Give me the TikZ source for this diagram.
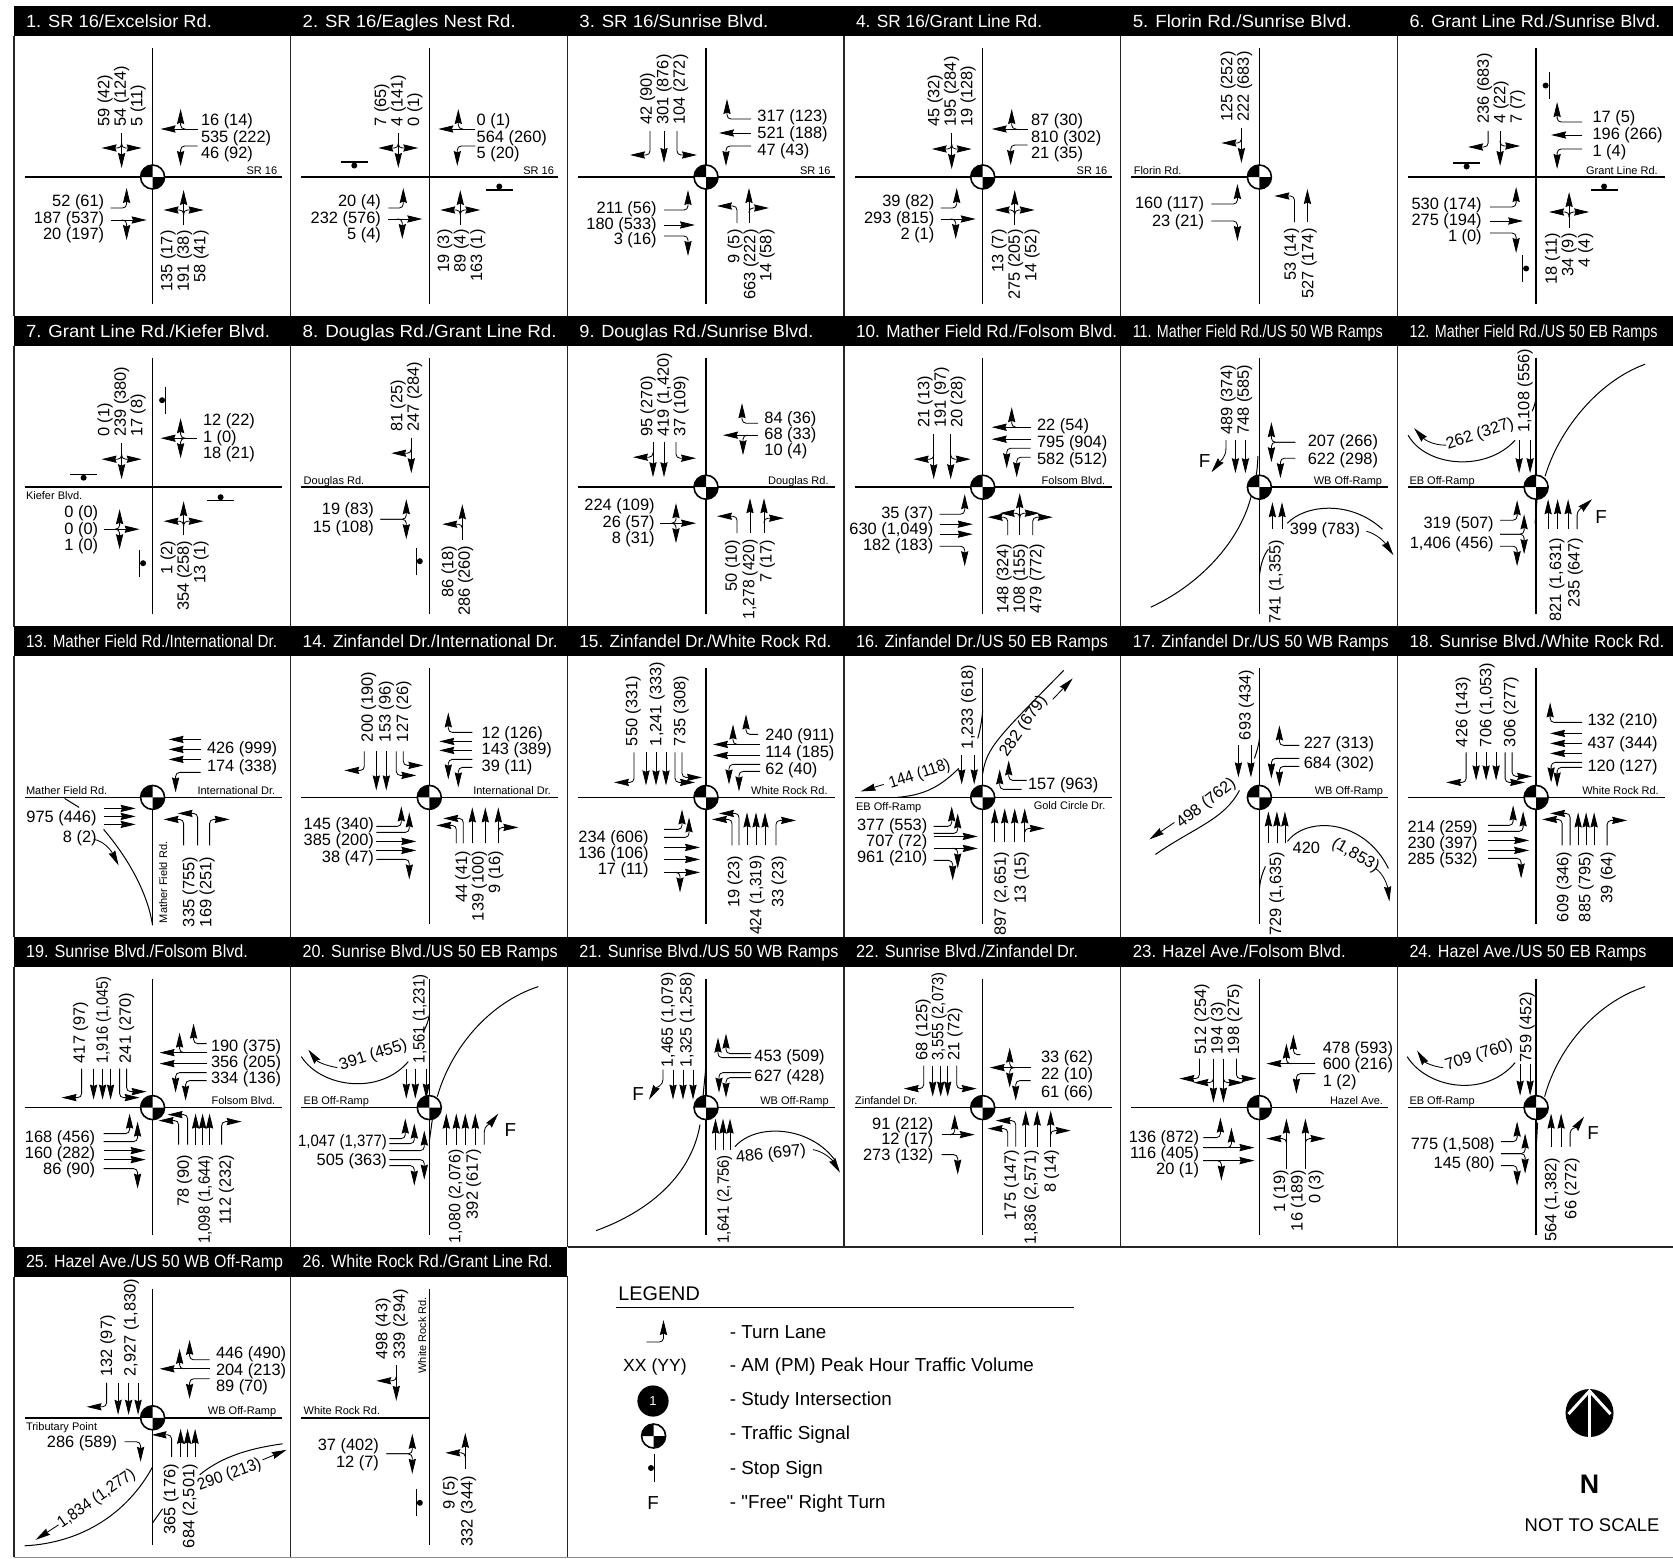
\documentclass[tikz,border=0pt]{standalone}
\usepackage{fontspec}
\usepackage{graphicx}
\usetikzlibrary{arrows.meta}
\setmainfont{Liberation Sans}[Ligatures=TeXOff]

\tikzset{
  every node/.style={font=\fontsize{8.2pt}{8.25pt}\selectfont, inner sep=0pt},
  lh/.style={font=\fontsize{8.2pt}{#1pt}\selectfont},
  lane/.style={line width=0.42pt, -{Stealth[length=7.5pt, width=3.6pt, inset=0.7pt]}},
  ramp/.style={line width=0.5pt},
  axis/.style={line width=0.75pt},
  gridline/.style={line width=0.65pt, draw=black!85},
  title/.style={anchor=base west, text=white, font=\fontsize{8.8pt}{10pt}\selectfont, name=title\cellid},
  volN/.style={rotate=90, anchor=west, align=left, name=v\cellid n},
  volS/.style={rotate=90, anchor=east, align=right, name=v\cellid s},
  volE/.style={anchor=west, align=left, name=v\cellid e},
  volW/.style={anchor=east, align=right, name=v\cellid w},
  road/.style={font=\fontsize{5.5pt}{6pt}\selectfont, name=r\cellid},
  fmark/.style={font=\fontsize{9.4pt}{10pt}\selectfont, name=f\cellid},
  legtext/.style={anchor=west, font=\fontsize{9.4pt}{10pt}\selectfont},
}

% one lane, drawn as if it came from the north: offset, start, end
\newcommand{\laneT}[3]{\draw[lane] (-#1,#2) -- (-#1,#3);}
\newcommand{\laneR}[3]{\draw[lane, rounded corners=2pt] (-#1,#2) -- (-#1,#3) -- (-#1-20,#3);}
\newcommand{\laneL}[3]{\draw[lane, rounded corners=2pt] (-#1,#2) -- (-#1,#3) -- (-#1+20,#3);}
\newcommand{\laneTR}[3]{\laneT{#1}{#2}{#3}\laneR{#1}{#3+25}{#3+20}}
\newcommand{\laneTL}[3]{\laneT{#1}{#2}{#3}\laneL{#1}{#3+25}{#3+20}}
\newcommand{\laneTLR}[3]{\laneT{#1}{#2}{#3}\laneR{#1}{#3+25}{#3+20}\laneL{#1}{#3+25}{#3+20}}
\newcommand{\laneLR}[3]{\laneR{#1}{#2}{#3}\laneL{#1}{#2}{#3}}
% rotation: 0 north leg, 90 west leg, 180 south leg, 270 east leg
\newcommand{\lanes}[2]{%
  \begin{scope}[rotate=#1]
    \foreach \ltype/\loff/\lbeg/\lend in {#2}{\csname lane\ltype\endcsname{\loff}{\lbeg}{\lend}}
  \end{scope}}
\newcommand{\nar}[2]{\scalebox{#1}[1]{#2}}
\newcommand{\signal}{%
  \fill[white] (0,0) circle (12);
  \fill (0,0) -- (-12,0) arc (180:90:12) -- cycle;
  \fill (0,0) -- (12,0) arc (0:-90:12) -- cycle;
  \draw[line width=0.8pt] (0,0) circle (12);}
\newcommand{\stopbar}[3]{%
  \begin{scope}[shift={(#1,#2)}, rotate=#3]
    \draw[line width=0.6pt] (-13.5,0) -- (13.5,0);
    \fill (0,-3.5) circle (3);
  \end{scope}}
% number, title, title width, west end, east end, north end, contents
\newcommand{\cell}[7]{%
  \def\cellid{#1}
  \pgfmathtruncatemacro\cellcol{mod(#1-1,6)}
  \pgfmathtruncatemacro\cellrow{int((#1-1)/6)}
  \pgfmathsetmacro\cellx{152.6+276.7*\cellcol}
  \pgfmathsetmacro\celly{177+310.2*\cellrow}
  \begin{scope}[shift={(\cellx,-\celly)}]
    \fill (-138.6,171) rectangle (138.1,141);
    \node[title] at (-127,150) {\resizebox{#3}{\height}{#2}};
    \draw[gridline] (-138.6,141) -- (-138.6,-139.4);
    \draw[axis] (#4,0) -- (#5,0);
    \draw[axis] (0,#6) -- (0,-127);
    #7
  \end{scope}}

\begin{document}
\begin{tikzpicture}[x=0.5pt, y=0.5pt]
\useasboundingbox (0,0) rectangle (1673,-1558);

\cell{1}{1. SR 16/Excelsior Rd.}{93pt}{-128}{129}{129}{
  \lanes{0}{TLR/31/44/9}
  \lanes{270}{TR/48/45/8, L/31/45/28}
  \lanes{90}{L/31/42/26, TR/43/42/6}
  \lanes{180}{TLR/31/48/13}
  \node[volN] at (-31,50) {59 (42)\\54 (124)\\5 (11)};
  \node[volE] at (48,39) {16 (14)\\535 (222)\\46 (92)};
  \node[volW] at (-48,-42) {52 (61)\\187 (537)\\20 (197)};
  \node[volS] at (32,-53) {135 (17)\\191 (38)\\58 (41)};
  \node[road, anchor=base east] at (125,3) {SR 16};
  \signal
}
\cell{2}{2. SR 16/Eagles Nest Rd.}{106.5pt}{-128}{129}{129}{
  \lanes{0}{TLR/31/44/9}
  \lanes{270}{TR/48/46/9, L/31/46/28}
  \lanes{90}{L/31/41/26, TR/42/41/7}
  \lanes{180}{TLR/31/48/13}
  \node[volN] at (-31,50) {7 (65)\\4 (141)\\0 (1)};
  \node[volE] at (47,39) {0 (1)\\564 (260)\\5 (20)};
  \node[volW] at (-48,-42) {20 (4)\\232 (576)\\5 (4)};
  \node[volS] at (32,-52) {19 (3)\\89 (4)\\163 (1)};
  \node[road, anchor=base east] at (125,3) {SR 16};
  \stopbar{-75}{15}{0}
  \stopbar{70}{-13}{180}
}
\cell{3}{3. SR 16/Sunrise Blvd.}{94.5pt}{-128}{129}{129}{
  \lanes{0}{R/56/46/22, T/42/46/14, L/29/46/22}
  \lanes{270}{R/58/45/21, T/44/45/13, L/31/45/20}
  \lanes{90}{L/33/42/18, T/48/42/11, R/59/42/18}
  \lanes{180}{L/31/46/29, TR/43/46/11}
  \node[volN] at (-42,52) {42 (90)\\301 (876)\\104 (272)};
  \node[volE, lh=8.5] at (51,43) {317 (123)\\521 (188)\\47 (43)};
  \node[volW, lh=7.7] at (-49,-48) {211 (56)\\180 (533)\\3 (16)};
  \node[volS, lh=8] at (45,-52) {9 (5)\\663 (222)\\14 (58)};
  \node[road, anchor=base east] at (125,3) {SR 16};
  \signal
}
\cell{4}{4. SR 16/Grant Line Rd.}{93pt}{-128}{129}{129}{
  \lanes{0}{TLR/31/44/8}
  \lanes{270}{TR/48/45/9, L/32/45/28}
  \lanes{90}{L/31/42/26, TR/42/42/7}
  \lanes{180}{TLR/32/48/13}
  \node[volN] at (-31,50) {45 (32)\\195 (284)\\19 (128)};
  \node[volE] at (48,39) {87 (30)\\810 (302)\\21 (35)};
  \node[volW] at (-48,-42) {39 (82)\\293 (815)\\2 (1)};
  \node[volS] at (33,-52) {13 (7)\\275 (205)\\14 (52)};
  \node[road, anchor=base east] at (125,3) {SR 16};
  \signal
}
\cell{5}{5. Florin Rd./Sunrise Blvd.}{109.5pt}{-128}{0}{129}{
  \lanes{0}{TR/18/49/14}
  \lanes{90}{L/27/48/22, R/44/48/22}
  \lanes{180}{L/35/45/19, T/48/45/12}
  \node[volN] at (-23,55) {125 (252)\\222 (683)};
  \node[volW, lh=9.2] at (-55,-36) {160 (117)\\23 (21)};
  \node[volS, lh=8.8] at (41,-51) {53 (14)\\527 (174)};
  \node[road, anchor=base west] at (-126,3) {Florin Rd.};
  \signal
}
\cell{6}{6. Grant Line Rd./Sunrise Blvd.}{125.5pt}{-128}{129}{129}{
  \lanes{0}{R/48/46/30, TL/36/46/11}
  \lanes{270}{R/55/46/21, T/42/46/15, L/28/46/21}
  \lanes{90}{L/30/46/20, T/44/46/13, R/56/46/20}
  \lanes{180}{TLR/33/51/15}
  \node[volN] at (-35,53) {236 (683)\\4 (22)\\7 (7)};
  \node[volE, lh=8.6] at (56,42) {17 (5)\\196 (266)\\1 (4)};
  \node[volW, lh=8] at (-54,-44) {530 (174)\\275 (194)\\1 (0)};
  \node[volS] at (33,-56) {18 (11)\\34 (9)\\4 (4)};
  \node[road, anchor=base east] at (122,3) {Grant Line Rd.};
  \stopbar{13}{91.5}{270}
  \stopbar{-69.5}{14}{0}
  \stopbar{68}{-13}{180}
  \stopbar{-13.5}{-91.5}{90}
}
\cell{7}{7. Grant Line Rd./Kiefer Blvd.}{122pt}{-128}{129}{129}{
  \lanes{0}{TLR/31/44/8}
  \lanes{270}{TLR/49/44/8}
  \lanes{90}{TLR/42/49/13}
  \lanes{180}{TLR/31/48/14}
  \node[volN] at (-31,50) {0 (1)\\239 (380)\\17 (8)};
  \node[volE] at (50,49) {12 (22)\\1 (0)\\18 (21)};
  \node[volW] at (-54,-43) {0 (0)\\0 (0)\\1 (0)};
  \node[volS] at (32,-53) {1 (2)\\354 (258)\\13 (1)};
  \node[road, anchor=base west] at (-127,-12) {Kiefer Blvd.};
  \stopbar{13}{87}{270}
  \stopbar{-69}{13}{0}
  \stopbar{68}{-13.5}{180}
  \stopbar{-13}{-76}{90}
}
\cell{8}{8. Douglas Rd./Grant Line Rd.}{127pt}{-128}{0}{129}{
  \lanes{0}{TR/18/49/14}
  \lanes{90}{LR/32/49/23}
  \lanes{180}{TL/33/53/17}
  \node[volN] at (-23,55) {81 (25)\\247 (284)};
  \node[volW, lh=9] at (-55,-32) {19 (83)\\15 (108)};
  \node[volS] at (28,-58) {86 (18)\\286 (260)};
  \node[road, anchor=base west] at (-126,3) {Douglas Rd.};
  \stopbar{-13}{-74}{90}
}
\cell{9}{9. Douglas Rd./Sunrise Blvd.}{117pt}{-128}{129}{129}{
  \lanes{0}{TR/53/45/10, T/42/45/10, L/30/45/29}
  \lanes{270}{R/64/52/36, TL/52/52/17}
  \lanes{90}{TLR/36/46/10}
  \lanes{180}{L/31/46/29, T/44/46/11, TR/58/46/11}
  \node[volN] at (-41.5,50) {95 (270)\\419 (1,420)\\37 (109)};
  \node[volE, lh=7.9] at (58,52) {84 (36)\\68 (33)\\10 (4)};
  \node[volW] at (-51,-36) {224 (109)\\26 (57)\\8 (31)};
  \node[volS, lh=8.7] at (44,-52) {50 (10)\\\nar{.95}{1,278 (420)}\\7 (17)};
  \node[road, anchor=base east] at (123,3) {Douglas Rd.};
  \signal
}
\cell{10}{10. Mather Field Rd./Folsom Blvd.}{130.5pt}{-128}{129}{129}{
  \lanes{0}{TR/49/53/8, TL/32/53/8}
  \lanes{270}{TR/60/48/9, T/48/48/9, L/39/48/24, L/30/48/34}
  \lanes{90}{L/27/43/18, T/37/43/10, T/47/43/10, R/59/43/18}
  \lanes{180}{L/25/48/30, TLR/37/48/6, R/50/48/30}
  \node[volN] at (-41,59) {21 (13)\\191 (97)\\20 (28)};
  \node[volE, lh=8.5] at (54,44) {22 (54)\\795 (904)\\582 (512)};
  \node[volW, lh=8] at (-49,-43) {35 (37)\\630 (1,049)\\182 (183)};
  \node[volS] at (38,-56) {148 (324)\\108 (155)\\479 (772)};
  \node[road, anchor=base east] at (123,3) {Folsom Blvd.};
  \signal
}
\cell{11}{11. Mather Field Rd./US 50 WB Ramps}{125pt}{0}{129}{129}{
  \lanes{0}{T/24/47/14, T/14/47/14}
  \lanes{270}{LR/45/36/12, L/29/36/21}
  \lanes{180}{T/13/42/15, T/22.6/42/15}
  \draw[lane] (-33.5,47) -- (-33.5,38) .. controls (-33.5,30) and (-40,25) .. (-48,15);
  \draw[ramp] (-108.6,-120) .. controls (-55,-95) and (-18,-50) .. (-8,-8) .. controls (-4,5) and (-2,15) .. (-1.5,31);
  \draw[ramp] (0,-89) .. controls (1,-78) and (4,-68) .. (9,-62);
  \draw[ramp] (28,-36) .. controls (45,-18) and (90,-12) .. (123,-42);
  \draw[lane] (107,-44) .. controls (118,-47) and (125,-55) .. (134,-68);
  \node[volN] at (-23,52) {489 (374)\\748 (585)};
  \node[volE, lh=9] at (48,36) {207 (266)\\622 (298)};
  \node[volS] at (17,-52) {741 (1,355)};
  \node[volE] at (30,-43) {399 (783)};
  \node[fmark] at (-54.7,26) {F};
  \node[road, anchor=base east] at (123,3) {WB Off-Ramp};
  \signal
}
\cell{12}{12. Mather Field Rd./US 50 EB Ramps}{124pt}{-128}{0}{129}{
  \lanes{0}{T/17/47/14, T/6/47/14}
  \lanes{90}{L/33/36/19, LR/47/36/12, R/59/36/19}
  \lanes{180}{T/12/42/12, T/21.5/42/12, T/32/42/12}
  \draw[lane] (41,-42) -- (41,-28) .. controls (41,-22) and (47,-20) .. (56,-12);
  \draw[ramp] (9,11) .. controls (22,55) and (60,105) .. (109,123);
  \draw[ramp] (-128,52) .. controls (-110,20) and (-50,15) .. (-21,47);
  \draw[lane] (-90,42) .. controls (-104,42) and (-112,48) .. (-122,59);
  \draw[ramp] (0,90) .. controls (-1,84) and (-2,80) .. (-4,76);
  \draw[ramp] (-1,-36) -- (1,-11);
  \node[volN] at (-11,54) {1,108 (556)};
  \node[volW, lh=9.7] at (-42,-47) {319 (507)\\1,406 (456)};
  \node[volS, lh=9.3] at (30,-50) {821 (1,631)\\235 (647)};
  \node[rotate=18] at (-56,53) {262 (327)};
  \node[fmark] at (65,-30) {F};
  \node[road, anchor=base west] at (-127,3) {EB Off-Ramp};
  \signal
}
\cell{13}{13. Mather Field Rd./International Dr.}{125.5pt}{-128}{129}{0}{
  \lanes{270}{T/58/48/16, T/48/48/16, T/38/48/16, L/25/48/23}
  \lanes{90}{T/11/49/17, T/19/49/17, T/27/49/17}
  \lanes{180}{L/31/48/22, L/45/48/16, R/57/48/22}
  \draw[ramp] (-49,-32) .. controls (-25,-60) and (-5,-95) .. (0,-128);
  \draw[lane] (-59,-42) .. controls (-50,-43) and (-42,-52) .. (-34,-68);
  \draw[ramp] (-88,-1) -- (-73.5,-10);
  \node[volE, lh=9] at (54,39) {426 (999)\\174 (338)};
  \node[volW, lh=10] at (-55.6,-31) {975 (446)\\8 (2)};
  \node[volS, lh=8.5] at (46,-59) {335 (755)\\169 (251)};
  \node[road, anchor=base west] at (-127,3) {Mather Field Rd.};
  \node[road, anchor=base east] at (123,3) {International Dr.};
  \node[road, rotate=90, anchor=west] at (10.6,-126) {Mather Field Rd.};
  \signal
}
\cell{14}{14. Zinfandel Dr./International Dr.}{127.5pt}{-128}{129}{129}{
  \lanes{0}{R/65/46/27, T/53/46/7, T/43/46/7, L/33/46/22, L/26/46/32}
  \lanes{270}{R/65/43/19, T/56/43/10, T/47/43/10, L/38/43/19, L/30/43/29}
  \lanes{90}{L/29/53/28, L/35/53/20, T/44/53/13, T/53/53/13, R/62/53/20}
  \lanes{180}{L/27/46/28, L/34/46/21, T/43/46/10, T/56/46/10, TR/69/46/10}
  \node[volN, lh=8.8] at (-43,55) {200 (190)\\153 (96)\\127 (26)};
  \node[volE] at (52,47) {12 (126)\\143 (389)\\39 (11)};
  \node[volW] at (-55,-44) {145 (340)\\385 (200)\\38 (47)};
  \node[volS] at (50,-53) {44 (41)\\139 (100)\\9 (16)};
  \node[road, anchor=base east] at (122,3) {International Dr.};
  \signal
}
\cell{15}{15. Zinfandel Dr./White Rock Rd.}{126pt}{-128}{129}{129}{
  \lanes{0}{R/72/45/15, T/60/45/12, T/50/45/12, T/40/45/12, L/31/45/15, L/24/45/20}
  \lanes{270}{R/63/52/40, TR/53/54/7, T/42/54/7, L/33/54/23, L/26/54/33}
  \lanes{90}{L/32/42/24, L/40/42/17, T/50/42/6, T/62/42/6, TR/75/42/6}
  \lanes{180}{L/26/48/22, L/33/48/16, T/41/48/15, T/50/48/15, T/59/48/15, R/70/48/23}
  \node[volN, lh=12] at (-49,51) {550 (331)\\1,241 (333)\\735 (308)};
  \node[volE, lh=8.6] at (59,44) {240 (911)\\114 (185)\\62 (40)};
  \node[volW, lh=8] at (-57,-57) {234 (606)\\136 (106)\\17 (11)};
  \node[volS, lh=11] at (51,-58) {19 (23)\\\nar{.94}{424 (1,319)}\\33 (23)};
  \node[road, anchor=base east] at (122,3) {White Rock Rd.};
  \signal
}
\cell{16}{16. Zinfandel Dr./US 50 EB Ramps}{126pt}{-128}{129}{129}{
  \lanes{0}{T/21/42/13, T/8.5/42/13}
  \lanes{270}{R/17/44/26, R/8/39/17}
  \lanes{90}{L/29/49/31, L/36/49/25, T/39/49/5, TR/51/49/5, R/63/49/30}
  \lanes{180}{T/12/45/11, T/22/45/11, T/32/45/11, TR/42/45/11}
  \draw[ramp] (0,87) .. controls (-1,75) and (-3,66) .. (-5,59);
  \draw[ramp] (0,24) .. controls (4,50) and (15,60) .. (81,127);
  \draw[lane] (70,98) -- (90,119);
  \draw[ramp] (-24,29) .. controls (-45,8) and (-62,2) .. (-86,0);
  \draw[lane] (-99,13) -- (-122,6);
  \node[volN] at (-14,48) {1,233 (618)};
  \node[volE] at (45,12) {157 (963)};
  \node[volW, lh=8] at (-55,-45) {377 (553)\\707 (72)\\961 (210)};
  \node[volS, lh=10] at (29,-54) {897 (2,651)\\13 (15)};
  \node[rotate=55] at (41,71) {282 (679)};
  \node[rotate=18] at (-63,23) {\nar{.92}{144 (118)}};
  \node[road, anchor=base west] at (-127,-13) {EB Off-Ramp};
  \node[road, anchor=base east] at (123,-12) {Gold Circle Dr.};
  \signal
}
\cell{17}{17. Zinfandel Dr./US 50 WB Ramps}{128pt}{0}{129}{129}{
  \lanes{0}{T/21/52/20, T/8.5/52/20}
  \lanes{270}{R/52/40/20, L/39/40/12, L/31/40/20}
  \lanes{180}{T/9/46/14, T/17.5/46/14, T/25.5/46/14}
  \draw[ramp] (0,59) .. controls (-1,50) and (-3,45) .. (-5,39);
  \draw[ramp] (0,-91) .. controls (1,-82) and (3,-75) .. (6,-69);
  \draw[ramp] (-20,7) .. controls (-35,-22) and (-65,-30) .. (-104,-57);
  \draw[lane] (-85,-25) -- (-110,-42);
  \draw[ramp] (28,-44) .. controls (48,-18) and (105,-22) .. (129,-71);
  \draw[lane] (116,-71) .. controls (124,-76) and (128,-88) .. (130,-104);
  \node[volN] at (-13,57) {693 (434)};
  \node[volE, lh=9.7] at (44,43) {227 (313)\\684 (302)};
  \node[volS] at (17.5,-54) {729 (1,635)};
  \node[rotate=38] at (-53,-6) {498 (762)};
  \node at (47,-50) {420};
  \node[rotate=-30] at (96,-58) {(1,853)};
  \node[road, anchor=base east] at (124,3) {WB Off-Ramp};
  \signal
}
\cell{18}{18. Sunrise Blvd./White Rock Rd.}{127.5pt}{-128}{129}{129}{
  \lanes{0}{R/70/45/15, T/60/45/17, T/50/45/17, T/40/45/17, L/31/45/15, L/24/45/21}
  \lanes{270}{R/75/46/14, T/64/46/14, T/54/46/14, T/44/46/14, L/35/46/15, L/30/46/21}
  \lanes{90}{L/28/48/23, L/34/48/13, T/43/48/7, T/53/48/7, R/61/48/15}
  \lanes{180}{L/26/48/22, L/34/48/16, T/42/48/15, T/50/48/15, T/58/48/15, R/71/48/23}
  \node[volN, lh=12] at (-49,50) {426 (143)\\706 (1,053)\\306 (277)};
  \node[volE, lh=11.5] at (51,53) {132 (210)\\437 (344)\\120 (127)};
  \node[volW, lh=8] at (-58,-47) {214 (259)\\230 (397)\\285 (532)};
  \node[volS, lh=11] at (50,-54) {609 (346)\\885 (795)\\39 (64)};
  \node[road, anchor=base east] at (123,3) {White Rock Rd.};
  \signal
}
\cell{19}{19. Sunrise Blvd./Folsom Blvd.}{111pt}{-128}{129}{129}{
  \lanes{0}{R/71/39/10, T/59/39/8, T/50/39/8, T/42/39/8, L/33/39/10, L/26/39/16}
  \lanes{270}{R/64/54/41, TR/55/54/7, T/44/54/7, L/35/54/23, L/27/54/33}
  \lanes{90}{L/26/49/23, L/34/49/15, T/43/49/7, T/52/49/7, R/61/49/15}
  \lanes{180}{L/26/37/13, L/35/37/7, T/43/37/6, T/50/37/6, T/57/37/6, R/69/37/14}
  \node[volN, lh=11.5] at (-49,44) {417 (97)\\\nar{.89}{1,916 (1,045)}\\241 (270)};
  \node[volE, lh=8] at (58,44) {190 (375)\\356 (205)\\334 (136)};
  \node[volW, lh=8] at (-57,-47) {168 (456)\\160 (282)\\86 (90)};
  \node[volS, lh=10.5] at (53,-47) {78 (90)\\\nar{.91}{1,098 (1,644)}\\112 (232)};
  \node[road, anchor=base east] at (123,3) {Folsom Blvd.};
  \signal
}
\cell{20}{20. Sunrise Blvd./US 50 EB Ramps}{127.5pt}{-128}{0}{129}{
  \lanes{0}{T/23/39/9, T/14/39/9, T/3/39/9}
  \lanes{90}{L/31/40/24, L/36/40/15, L/43/40/5, R/52/40/5, R/58/40/15}
  \lanes{180}{T/17/37/6, T/27/37/6, T/36/37/6, T/46/37/6}
  \draw[lane] (55,-37) -- (55,-24) .. controls (55,-18) and (61,-16) .. (69,-6);
  \draw[ramp] (8,11) .. controls (22,60) and (60,105) .. (109,121);
  \draw[ramp] (-128,51) .. controls (-108,20) and (-50,12) .. (-21,46);
  \draw[lane] (-92,40) .. controls (-104,42) and (-112,46) .. (-121,58);
  \draw[ramp] (0,93) .. controls (-1,86) and (-3,81) .. (-6,76);
  \draw[ramp] (0,-34) -- (3,-12);
  \node[volN] at (-9,44) {\nar{.91}{1,561 (1,231)}};
  \node[volW, lh=9.7] at (-42,-44) {\nar{.91}{1,047 (1,377)}\\505 (363)};
  \node[volS, lh=8.8] at (35.5,-41) {\nar{.97}{1,080 (2,076)}\\392 (617)};
  \node[rotate=18] at (-56,52) {391 (455)};
  \node[fmark] at (81,-22) {F};
  \node[road, anchor=base west] at (-126,3) {EB Off-Ramp};
  \signal
}
\cell{21}{21. Sunrise Blvd./US 50 WB Ramps}{129.5pt}{0}{129}{129}{
  \lanes{0}{T/33/38/8, T/23/38/8, T/13/38/8}
  \lanes{270}{R/50/45/12, R/54/45/20, L/35/45/13, L/30/45/20}
  \lanes{180}{T/9.5/42/11, T/17/42/11, T/24/42/11}
  \draw[lane] (-43,38) -- (-43,28) .. controls (-43,22) and (-50,20) .. (-57,8);
  \draw[ramp] (0,52) .. controls (0,35) and (-2,25) .. (-3,10);
  \draw[ramp] (-6,-17) .. controls (-15,-70) and (-60,-105) .. (-110,-123);
  \draw[ramp] (29,-39) .. controls (50,-15) and (105,-18) .. (130,-54);
  \draw[lane] (107,-42) .. controls (118,-44) and (126,-52) .. (134,-65);
  \node[volN, lh=9.3] at (-28,40) {\nar{.97}{1,465 (1,079)}\\\nar{.97}{1,325 (1,258)}};
  \node[volE, lh=10] at (48,40) {453 (509)\\627 (428)};
  \node[volS] at (18.5,-47) {\nar{.91}{1,641 (2,756)}};
  \node[rotate=6] at (65,-47) {486 (697)};
  \node[fmark] at (-68,14) {F};
  \node[road, anchor=base east] at (123,3) {WB Off-Ramp};
  \signal
}
\cell{22}{22. Sunrise Blvd./Zinfandel Dr.}{111pt}{-128}{129}{129}{
  \lanes{0}{R/59/42/19, T/50/42/11, T/42/42/11, T/35/42/11, L/26/42/19}
  \lanes{270}{TLR/40/48/7, L/27/48/33}
  \lanes{90}{TL/27/41/8, R/47/41/25}
  \lanes{180}{L/25/39/21, L/33/39/13, T/43/39/3, T/54.5/39/3, TR/68/39/3}
  \node[volN, lh=8] at (-43.5,47) {68 (125)\\\nar{.9}{3,555 (2,073)}\\21 (72)};
  \node[volE, lh=8.7] at (58,32) {33 (62)\\22 (10)\\61 (66)};
  \node[volW, lh=7.9] at (-49,-33) {91 (212)\\12 (17)\\273 (132)};
  \node[volS, lh=10] at (49,-42) {175 (147)\\\nar{.97}{1,836 (2,571)}\\8 (14)};
  \node[road, anchor=base west] at (-128,3) {Zinfandel Dr.};
  \signal
}
\cell{23}{23. Hazel Ave./Folsom Blvd.}{106.5pt}{-128}{129}{129}{
  \lanes{0}{R/60/49/29, TR/46/49/5, TL/36/49/5, L/23/49/29}
  \lanes{270}{R/53/41/34, TR/44/56/7, L/34/56/37}
  \lanes{90}{L/30/56/39, T/40/56/5, L/40/56/28, T/53/56/5, R/53/56/38}
  \lanes{180}{TL/27/61/11, TR/46/61/11}
  \node[volN] at (-41,53) {512 (254)\\194 (3)\\198 (275)};
  \node[volE] at (63,42) {478 (593)\\600 (216)\\1 (2)};
  \node[volW, lh=8] at (-60,-47) {136 (872)\\116 (405)\\20 (1)};
  \node[volS, lh=8.8] at (39,-62) {1 (19)\\16 (189)\\0 (3)};
  \node[road, anchor=base east] at (124,3) {Hazel Ave.};
  \signal
}
\cell{24}{24. Hazel Ave./US 50 EB Ramps}{118.5pt}{-128}{0}{129}{
  \lanes{0}{T/16/44/12, T/6/44/12}
  \lanes{90}{L/34/35/19, LR/46/35/11, R/58/35/19}
  \lanes{180}{T/15/39/6, T/25/39/6}
  \draw[lane] (34,-39) -- (34,-26) .. controls (34,-20) and (40,-20) .. (48,-9);
  \draw[ramp] (8.5,11) .. controls (22,60) and (60,105) .. (109,121);
  \draw[ramp] (-129,51) .. controls (-108,18) and (-50,10) .. (-21,45);
  \draw[lane] (-93,40) .. controls (-104,41) and (-112,46) .. (-119,57);
  \draw[ramp] (0,-41) -- (1.5,-15);
  \node[volN] at (-9,45) {759 (452)};
  \node[volW, lh=9.5] at (-41,-47) {775 (1,508)\\145 (80)};
  \node[volS, lh=10] at (26,-50) {564 (1,382)\\66 (272)};
  \node[rotate=18] at (-57,52) {709 (760)};
  \node[fmark] at (57,-25) {F};
  \node[road, anchor=base west] at (-127,3) {EB Off-Ramp};
  \signal
}
\cell{25}{25. Hazel Ave./US 50 WB Off-Ramp}{128.5pt}{-128}{129}{129}{
  \lanes{0}{R/46/35/11, T/34.5/35/3, T/24/35/3, T/14.5/35/3}
  \lanes{270}{R/58/57/37, TR/49/57/7, L/39/57/37}
  \lanes{90}{R/24/28/12}
  \lanes{180}{L/19/39/17, T/28/39/11, T/35/39/11, T/42.5/39/11}
  \draw[ramp] (0,-49) .. controls (-25,-95) and (-70,-125) .. (-128,-128);
  \draw[lane] (-94,-107) -- (-117,-122);
  \draw[ramp] (0,-105) -- (10,-91);
  \draw[ramp] (47,-57) .. controls (70,-38) and (100,-30) .. (130,-26);
  \draw[lane] (110,-42) -- (134,-32);
  \node[volN, lh=11.8] at (-33,41) {132 (97)\\2,927 (1,830)};
  \node[volE] at (63,47) {446 (490)\\204 (213)\\89 (70)};
  \node[volW] at (-35,-25) {286 (589)};
  \node[volS, lh=9.5] at (28,-46) {365 (176)\\684 (2,501)};
  \node[rotate=35] at (-56,-81) {\nar{.93}{1,834 (1,277)}};
  \node[rotate=20] at (77,-57) {\nar{.95}{290 (213)}};
  \node[road, anchor=base east] at (124,3) {WB Off-Ramp};
  \node[road, anchor=base west] at (-127,-13) {Tributary Point};
  \signal
}
\cell{26}{26. White Rock Rd./Grant Line Rd.}{125pt}{-128}{0}{129}{
  \lanes{0}{TR/33/53/17}
  \lanes{90}{LR/36/43/17}
  \lanes{180}{TL/36/51/15}
  \node[volN, lh=8.8] at (-37.5,58) {498 (43)\\339 (294)};
  \node[volW, lh=8.5] at (-50,-37) {37 (402)\\12 (7)};
  \node[volS, lh=9] at (30,-58) {9 (5)\\332 (344)};
  \node[road, anchor=base west] at (-126,3) {White Rock Rd.};
  \node[road, rotate=90, anchor=west] at (-7,44) {White Rock Rd.};
  \stopbar{-13}{-85}{90}
}

% Frame round the legend
\draw[gridline] (567.5,-1276) -- (567.5,-1558);
\draw[gridline] (567.5,-1247) -- (1673,-1247);
\draw[line width=0.6pt, draw=black!45] (14,-1557.5) -- (1673,-1557.5);

% Legend
\def\cellid{leg}
\node[anchor=west, font=\fontsize{9.9pt}{10pt}\selectfont] (legend) at (618,-1294) {LEGEND};
\draw[line width=0.55pt] (616,-1307.7) -- (1074,-1307.7);
\draw[lane, rounded corners=2pt] (646.5,-1342) -- (663.5,-1342) -- (663.5,-1320);
\node (legvol) at (655,-1367) {\fontsize{8.8pt}{9pt}\selectfont XX (YY)};
\fill (653,-1401) circle (15.6);
\node[text=white, font=\fontsize{6.5pt}{7pt}\selectfont] (legnum) at (653,-1401) {1};
\begin{scope}[shift={(653.6,-1436)}]
  \signal
\end{scope}
\draw[line width=0.5pt] (654.3,-1454) -- (654.3,-1482);
\fill (651,-1468) circle (3);
\node[fmark] at (653,-1503) {F};
\node[legtext] (turn) at (729.5,-1332) {- Turn Lane};
\node[legtext] (peak) at (729.5,-1366.7) {- AM (PM) Peak Hour Traffic Volume};
\node[legtext] (study) at (729.5,-1401) {- Study Intersection};
\node[legtext] (signal) at (729.5,-1435) {- Traffic Signal};
\node[legtext] (stop) at (729.5,-1470) {- Stop Sign};
\node[legtext] (free) at (729.5,-1503.7) {- "Free" Right Turn};

% North arrow
\fill (1589.5,-1413) circle (24);
\draw[white, line width=1.5pt] (1589.5,-1437) -- (1589.5,-1391);
\draw[white, line width=1.5pt] (1568.5,-1414) -- (1589.5,-1391) -- (1610.5,-1414);
\node[font=\fontsize{13.4pt}{14pt}\selectfont\bfseries] (north) at (1589.5,-1484) {N};
\node[font=\fontsize{9.2pt}{10pt}\selectfont] (scale) at (1592,-1525) {NOT TO SCALE};
\end{tikzpicture}
\end{document}
